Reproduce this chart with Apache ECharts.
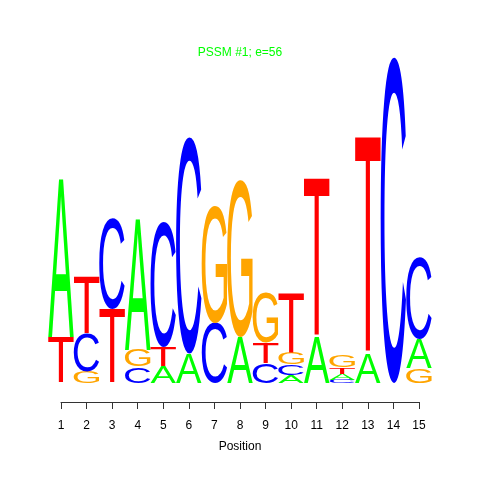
<!DOCTYPE html>
<html>
<head>
<meta charset="utf-8">
<script src="https://cdn.jsdelivr.net/npm/echarts@6/dist/echarts.min.js"></script>
<style>
  html, body { margin: 0; padding: 0; background: #fff; }
  #chart { width: 480px; height: 480px; }
</style>
</head>
<body>
<div id="chart"></div>
<script>
var positions = [1, 2, 3, 4, 5, 6, 7, 8, 9, 10, 11, 12, 13, 14, 15]
var letters = ['A', 'C', 'G', 'T']
var bitsA = [0.97, 0, 0, 0.80, 0.10, 0.18, 0, 0.28, 0, 0.05, 0.28, 0.035, 0.18, 0, 0.18]
var bitsC = [0, 0.23, 0.56, 0.10, 0.77, 1.33, 0.37, 0, 0.12, 0.065, 0, 0.02, 0, 2.0, 0.50]
var bitsG = [0, 0.07, 0, 0.105, 0, 0, 0.72, 0.96, 0.31, 0.07, 0, 0.07, 0, 0, 0.09]
var bitsT = [0.28, 0.35, 0.45, 0, 0.12, 0, 0, 0, 0.13, 0.37, 0.97, 0.04, 1.33, 0, 0]

var letterColors = { A: '#00ff00', C: '#0000ff', G: '#ffa500', T: '#ff0000' }
var FONT = '100px "Liberation Sans", Arial, sans-serif'

// ink box of each glyph around a left / middle anchor
var glyphBox = {}
;(function() {
  var ctx = document.createElement('canvas').getContext('2d')
  ctx.font = FONT
  ctx.textAlign = 'left'
  ctx.textBaseline = 'middle'
  letters.forEach(function(ch) {
    var m = ctx.measureText(ch)
    glyphBox[ch] = {
      l: m.actualBoundingBoxLeft,
      r: m.actualBoundingBoxRight,
      a: m.actualBoundingBoxAscent,
      d: m.actualBoundingBoxDescent
    }
  })
})()

// stack letters per column, smallest at the bottom
var stackData = []
var cols = [bitsA, bitsC, bitsG, bitsT]
positions.forEach(function(pos, i) {
  var items = []
  letters.forEach(function(ch, k) {
    if (cols[k][i] > 0) items.push({ k: k, v: cols[k][i] })
  })
  items.sort(function(a, b) { return a.v - b.v })
  var base = 0
  items.forEach(function(it) {
    stackData.push([pos, base, base + it.v, it.k])
    base += it.v
  })
})

function renderLetter(params, api) {
  var pos = api.value(0)
  var ch = letters[api.value(3)]
  var p0 = api.coord([pos - 0.5, api.value(1)])
  var p1 = api.coord([pos + 0.5, api.value(2)])
  var box = glyphBox[ch]
  var w = p1[0] - p0[0]
  var h = p0[1] - p1[1]
  var sx = w / (box.l + box.r)
  var sy = h / (box.a + box.d)
  return {
    type: 'text',
    x: p0[0] + box.l * sx,
    y: p1[1] + box.a * sy,
    scaleX: sx,
    scaleY: sy,
    silent: true,
    style: {
      text: ch,
      font: FONT,
      fill: letterColors[ch],
      align: 'left',
      verticalAlign: 'middle'
    }
  }
}

var chart = echarts.init(document.getElementById('chart'))
chart.setOption({
  backgroundColor: '#fff',
  animation: false,
  title: {
    text: 'PSSM #1; e=56',
    left: 'center',
    top: 42,
    textStyle: {
      color: '#00ff00',
      fontSize: 12,
      fontWeight: 'normal',
      fontFamily: '"Liberation Sans", Arial, sans-serif'
    }
  },
  grid: { left: 61, right: 61, top: 57, bottom: 97 },
  xAxis: {
    type: 'value',
    min: 1,
    max: 15,
    interval: 1,
    offset: 19,
    name: 'Position',
    nameLocation: 'middle',
    nameGap: 39,
    nameTextStyle: { color: '#000', fontSize: 12, fontFamily: '"Liberation Sans", Arial, sans-serif' },
    axisLine: { show: true, onZero: false, lineStyle: { color: '#333', width: 1 } },
    axisTick: { show: true, length: 7, lineStyle: { color: '#333' } },
    axisLabel: { color: '#000', fontSize: 12, margin: 18, fontFamily: '"Liberation Sans", Arial, sans-serif' },
    splitLine: { show: false }
  },
  yAxis: {
    type: 'value',
    min: 0,
    max: 2,
    show: false
  },
  series: [{
    type: 'custom',
    clip: false,
    renderItem: renderLetter,
    encode: { x: 0, y: [1, 2] },
    data: stackData
  }]
})
</script>
</body>
</html>
